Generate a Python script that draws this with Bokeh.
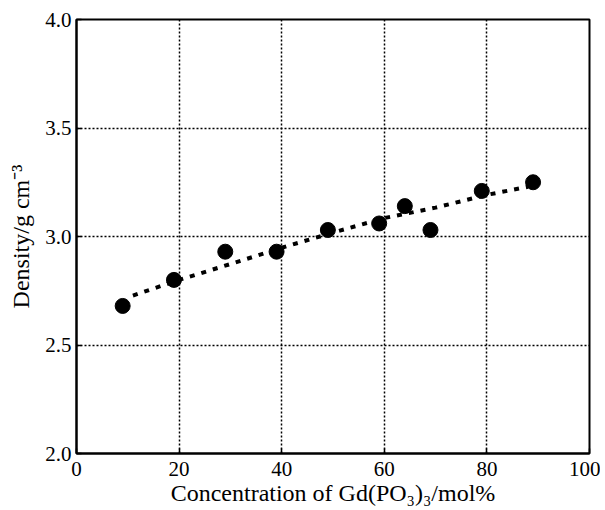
from bokeh.plotting import figure
from bokeh.models import FixedTicker, Range1d, PrintfTickFormatter
from bokeh.embed import file_html
from bokeh.resources import INLINE

# measured data points
conc = [9, 19, 29, 39, 49, 59, 64, 69, 79, 89]
density = [2.68, 2.80, 2.93, 2.93, 3.03, 3.06, 3.14, 3.03, 3.21, 3.25]

# fitted trend
fit_x = [11, 20, 30, 40, 50, 60, 70, 80, 88]
fit_y = [2.728, 2.800, 2.873, 2.948, 3.018, 3.085, 3.133, 3.192, 3.229]

x_ticks = [0, 20, 40, 60, 80, 100]
y_ticks = [2.0, 2.5, 3.0, 3.5, 4.0]

FONT = "Liberation Serif"

p = figure(width=600, height=508, output_backend="svg", toolbar_location=None,
           x_range=Range1d(0, 100), y_range=Range1d(2.0, 4.0),
           min_border_left=76, min_border_top=19, min_border_right=11, min_border_bottom=51)

p.outline_line_color = "black"
p.outline_line_width = 2
p.background_fill_color = "white"
p.border_fill_color = "white"

for ax in (p.xaxis[0], p.yaxis[0]):
    ax.axis_line_width = 2
    ax.axis_line_color = "black"
    ax.major_tick_in = 5
    ax.major_tick_out = 0
    ax.major_tick_line_width = 1.5
    ax.minor_tick_line_color = None
    ax.major_label_text_font = FONT
    ax.major_label_text_font_size = "21px"
    ax.major_label_text_color = "black"
    ax.axis_label_text_font = FONT
    ax.axis_label_text_font_size = "24px"
    ax.axis_label_text_font_style = "normal"
    ax.axis_label_text_color = "black"

p.xaxis.ticker = FixedTicker(ticks=x_ticks)
p.yaxis.ticker = FixedTicker(ticks=y_ticks)
p.yaxis.formatter = PrintfTickFormatter(format="%.1f")
p.xaxis.major_label_standoff = 8
p.yaxis.major_label_standoff = 5
p.xaxis.axis_label_standoff = 1
p.yaxis.axis_label_standoff = 8
p.xaxis.axis_label = "Concentration of Gd(PO\u2083)\u2083/mol%"
p.yaxis.axis_label = "Density/g cm\u207b\u00b3"

p.grid.grid_line_color = "black"
p.grid.grid_line_width = 1.5
p.grid.grid_line_dash = "2 2"
p.xgrid.ticker = FixedTicker(ticks=[20, 40, 60, 80])
p.ygrid.ticker = FixedTicker(ticks=[2.5, 3.0, 3.5])

p.line(fit_x, fit_y, line_color="black", line_width=4, line_dash="5 7")
p.scatter(conc, density, size=15, color="black", marker="circle")

open("out.html", "w").write(file_html(p, INLINE))
